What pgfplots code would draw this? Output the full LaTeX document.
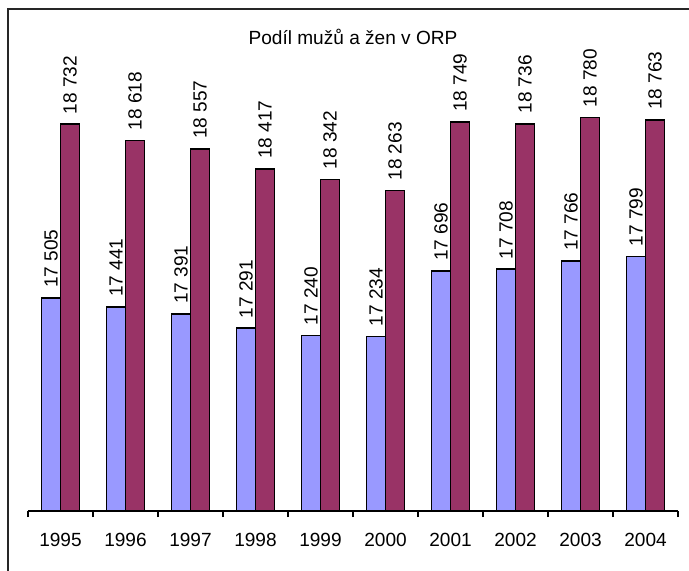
\documentclass[border=0pt]{standalone}
\usepackage{pgfplots}
\pgfplotsset{compat=1.18}
\usepackage{fontspec}
\setmainfont{Liberation Sans}
\definecolor{muzi}{HTML}{9999FF}
\definecolor{zeny}{HTML}{993366}

\begin{document}
\begin{tikzpicture}[x=1pt,y=1pt]
  \useasboundingbox (-21,-45) rectangle (495.75,383.25);
  % ramecek grafu (jen levy a horni okraj je videt)
  \draw[line width=1.1pt, black!85] (-15,-46) -- (-15,376.5) -- (497,376.5);
  \begin{axis}[
    at={(0,0)}, anchor=south west,
    scale only axis,
    width=487.5pt, height=318.5pt,
    ybar=0pt, bar width=14.25pt,
    xmin=-0.5, xmax=9.5,
    ymin=16000, ymax=19000,
    axis x line*=bottom,
    axis y line=none,
    axis line style={black, line width=0.8pt},
    xtick={0,...,9},
    xticklabels={1995,1996,1997,1998,1999,2000,2001,2002,2003,2004},
    major x tick style={draw=none},
    minor xtick={-0.5,0.5,...,9.5},
    minor x tick style={black, line width=0.8pt},
    minor tick length=4.5pt,
    tick align=outside,
    xticklabel style={font=\fontsize{14.3}{16}\selectfont, yshift=-9pt},
    /pgf/number format/.cd, 1000 sep={\ }, assume math mode=true,
    /pgfplots/.cd,
    nodes near coords,
    every node near coord/.append style={rotate=90, anchor=west,
      font=\fontsize{14.3}{16}\selectfont, inner sep=2pt, xshift=5pt},
    clip=false,
  ]
  \addplot[fill=muzi, draw=black, line width=1.2pt]
    coordinates {(0,17505)(1,17441)(2,17391)(3,17291)(4,17240)
                 (5,17234)(6,17696)(7,17708)(8,17766)(9,17799)};
  \addplot[fill=zeny, draw=black, line width=1.2pt]
    coordinates {(0,18732)(1,18618)(2,18557)(3,18417)(4,18342)
                 (5,18263)(6,18749)(7,18736)(8,18780)(9,18763)};
  \end{axis}
  \node[font=\fontsize{14.3}{16}\selectfont] at (243.75,355.5) {Podíl mužů a žen v ORP};
\end{tikzpicture}
\end{document}
